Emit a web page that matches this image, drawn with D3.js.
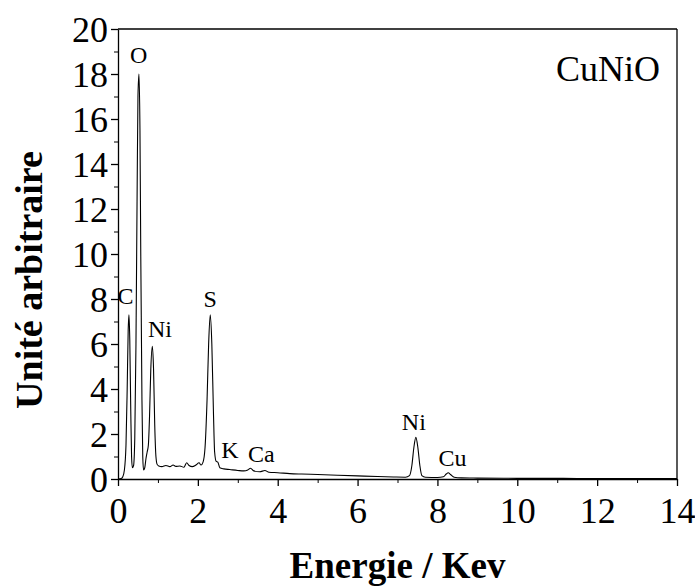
<!DOCTYPE html>
<html>
<head>
<meta charset="utf-8">
<script src="https://cdn.jsdelivr.net/npm/d3@7/dist/d3.min.js"></script>
<style>
  html, body { margin: 0; padding: 0; background: #fff; }
  svg { display: block; }
</style>
</head>
<body>
<svg id="chart" width="695" height="586"></svg>
<script>
// EDS spectrum of the CuNiO sample: energy (keV) and intensity (arbitrary units)
const energy = [
  0.00, 0.08, 0.12, 0.16, 0.20, 0.23, 0.255, 0.275, 0.295, 0.32, 0.34, 0.36, 0.39,
  0.42, 0.45, 0.48, 0.50, 0.525, 0.55, 0.57, 0.60, 0.62, 0.64, 0.67, 0.70, 0.73,
  0.76, 0.79, 0.82, 0.86, 0.89, 0.92, 0.95, 0.98, 1.02, 1.10, 1.20, 1.30, 1.38,
  1.45, 1.55, 1.65, 1.72, 1.78, 1.86, 1.95, 2.03, 2.08, 2.13, 2.18, 2.23, 2.27,
  2.31, 2.35, 2.39, 2.42, 2.46, 2.50, 2.55, 2.65, 2.80, 3.00, 3.15, 3.25, 3.32,
  3.40, 3.55, 3.68, 3.78, 4.00, 4.30, 4.60, 5.00, 5.50, 6.00, 6.50, 6.90, 7.20,
  7.30, 7.36, 7.41, 7.46, 7.51, 7.56, 7.61, 7.70, 8.00, 8.15, 8.22, 8.27, 8.33,
  8.42, 8.60, 9.00, 10.0, 11.0, 12.0, 13.0, 14.0
];
const intensity = [
  0.00, 0.02, 0.10, 0.40, 1.50, 4.00, 6.60, 7.30, 6.20, 3.00, 1.00, 0.50, 0.60,
  1.80, 6.00, 13.0, 17.0, 18.0, 15.5, 10.0, 3.50, 1.00, 0.40, 0.50, 0.90, 1.20,
  1.50, 2.80, 4.80, 5.90, 4.90, 2.40, 1.00, 0.65, 0.58, 0.55, 0.60, 0.55, 0.62,
  0.56, 0.58, 0.52, 0.72, 0.60, 0.55, 0.62, 0.72, 0.62, 0.75, 1.40, 3.50, 6.00,
  7.30, 6.00, 3.00, 1.20, 0.78, 0.75, 0.50, 0.45, 0.42, 0.38, 0.36, 0.40, 0.48,
  0.36, 0.32, 0.38, 0.30, 0.28, 0.24, 0.22, 0.20, 0.17, 0.14, 0.11, 0.09, 0.08,
  0.15, 0.60, 1.40, 1.85, 1.40, 0.60, 0.15, 0.08, 0.07, 0.10, 0.22, 0.28, 0.20,
  0.08, 0.05, 0.04, 0.03, 0.03, 0.02, 0.02, 0.02
];

// Element labels placed above their peaks (label baseline level in intensity units)
const peakNames = ["O", "C", "Ni", "S", "K", "Ca", "Ni", "Cu"];
const peakEnergy = [0.52, 0.19, 1.05, 2.31, 2.80, 3.59, 7.41, 8.38];
const peakLabelLevel = [18.5, 7.8, 6.3, 7.66, 0.93, 0.77, 2.2, 0.58];

const xTicks = [0, 2, 4, 6, 8, 10, 12, 14];
const yTicks = [0, 2, 4, 6, 8, 10, 12, 14, 16, 18, 20];
const xMinor = [1, 3, 5, 7, 9, 11, 13];
const yMinor = [1, 3, 5, 7, 9, 11, 13, 15, 17, 19];

const sampleName = "CuNiO";
const xTitle = "Energie / Kev";
const yTitle = "Unité arbitraire";

const margin = { left: 118, top: 29, right: 18, bottom: 107 };
const W = 695, H = 586;
const iw = W - margin.left - margin.right;
const ih = H - margin.top - margin.bottom;

const svg = d3.select("#chart");
const g = svg.append("g").attr("transform", `translate(${margin.left},${margin.top})`);

const x = d3.scaleLinear().domain([0, 14]).range([0, iw]);
const y = d3.scaleLinear().domain([0, 20]).range([ih, 0]);

const serif = "'Liberation Serif', 'Times New Roman', serif";

// Minor ticks
g.append("g")
  .attr("transform", `translate(0,${ih})`)
  .call(d3.axisBottom(x).tickValues(xMinor).tickSize(4).tickFormat(""))
  .call(s => s.select(".domain").remove());
g.append("g")
  .call(d3.axisLeft(y).tickValues(yMinor).tickSize(4).tickFormat(""))
  .call(s => s.select(".domain").remove());

// Major axes
const xAxis = g.append("g")
  .attr("transform", `translate(0,${ih})`)
  .call(d3.axisBottom(x).tickValues(xTicks).tickSizeInner(7).tickSizeOuter(0).tickPadding(11).tickFormat(d3.format("d")));
const yAxis = g.append("g")
  .call(d3.axisLeft(y).tickValues(yTicks).tickSizeInner(7).tickSizeOuter(0).tickPadding(3).tickFormat(d3.format("d")));

[xAxis, yAxis].forEach(a => {
  a.selectAll("text").attr("font-family", serif).attr("font-size", 36).attr("fill", "#000");
  a.selectAll("line").attr("stroke", "#000").attr("stroke-width", 1.3);
  a.select(".domain").attr("stroke", "#000").attr("stroke-width", 1.3);
});
yAxis.selectAll("text").attr("dy", "0.34em");

// Frame on top and right
g.append("line").attr("x1", 0).attr("x2", iw).attr("y1", 0).attr("y2", 0)
  .attr("stroke", "#000").attr("stroke-width", 1.3);
g.append("line").attr("x1", iw).attr("x2", iw).attr("y1", 0).attr("y2", ih)
  .attr("stroke", "#000").attr("stroke-width", 1.3);

// Spectrum line
const pts = energy.map((e, i) => [e, intensity[i]]);
const line = d3.line().x(d => x(d[0])).y(d => y(d[1])).curve(d3.curveMonotoneX);
g.append("path")
  .datum(pts)
  .attr("fill", "none")
  .attr("stroke", "#000")
  .attr("stroke-width", 1.1)
  .attr("d", line);

// Peak labels
g.selectAll(".peak")
  .data(peakNames)
  .join("text")
  .attr("class", "peak")
  .attr("x", (d, i) => x(peakEnergy[i]))
  .attr("y", (d, i) => y(peakLabelLevel[i]))
  .attr("text-anchor", "middle")
  .attr("font-family", serif)
  .attr("font-size", 24)
  .text(d => d);

// Sample name
g.append("text")
  .attr("x", iw - 17)
  .attr("y", 52)
  .attr("text-anchor", "end")
  .attr("font-family", serif)
  .attr("font-size", 36)
  .text(sampleName);

// Axis titles
svg.append("text")
  .attr("x", margin.left + iw / 2)
  .attr("y", 578)
  .attr("text-anchor", "middle")
  .attr("font-family", serif)
  .attr("font-weight", "bold")
  .attr("font-size", 37)
  .text(xTitle);

svg.append("text")
  .attr("transform", `translate(42,280) rotate(-90)`)
  .attr("text-anchor", "middle")
  .attr("font-family", serif)
  .attr("font-weight", "bold")
  .attr("font-size", 38)
  .text(yTitle);
</script>
</body>
</html>
